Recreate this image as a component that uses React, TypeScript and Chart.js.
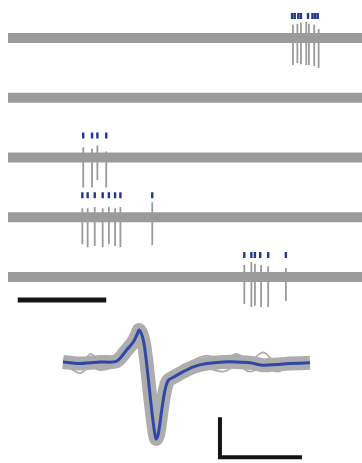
import React, { useEffect, useRef } from "react";
import { Chart, registerables } from "chart.js";
Chart.register(...registerables);

// ---------- Top panel: 5 extracellular traces (time in s, trace offset units) ----------
const traceOffsets = [0, -1, -2, -3, -4];
const traceStart = 0;
const traceEnd = 4;

const spikeTimes1 = [3.22, 3.27, 3.31, 3.37, 3.40, 3.46, 3.51];
const spikeDown1 = [0.45, 0.42, 0.44, 0.45, 0.45, 0.47, 0.5];
const spikeUp1 = [0.22, 0.24, 0.26, 0.27, 0.24, 0.22, 0.15];
const rasterTimes1 = [3.21, 3.24, 3.28, 3.31, 3.39, 3.44, 3.47, 3.5];

const spikeTimes2: number[] = [];
const spikeDown2: number[] = [];
const spikeUp2: number[] = [];
const rasterTimes2: number[] = [];

const spikeTimes3 = [0.85, 0.95, 1.01, 1.11];
const spikeDown3 = [0.5, 0.5, 0.38, 0.5];
const spikeUp3 = [0.17, 0.15, 0.2, 0.1];
const rasterTimes3 = [0.85, 0.95, 1.01, 1.11];

const spikeTimes4 = [0.84, 0.9, 0.98, 1.07, 1.14, 1.21, 1.27, 1.63];
const spikeDown4 = [0.45, 0.5, 0.48, 0.5, 0.45, 0.48, 0.5, 0.47];
const spikeUp4 = [0.15, 0.15, 0.17, 0.15, 0.17, 0.15, 0.17, 0.25];
const rasterTimes4 = [0.84, 0.9, 0.98, 1.07, 1.14, 1.21, 1.27, 1.63];

const spikeTimes5 = [2.67, 2.75, 2.79, 2.86, 2.94, 3.14];
const spikeDown5 = [0.45, 0.5, 0.48, 0.5, 0.5, 0.4];
const spikeUp5 = [0.2, 0.25, 0.22, 0.2, 0.18, 0.15];
const rasterTimes5 = [2.67, 2.75, 2.79, 2.85, 2.94, 3.14];

const rasterLow = 0.32;
const rasterHigh = 0.42;

const timeBarStart = 0.11; // 1 s scale bar
const timeBarLength = 1.0;
const timeBarLevel = -4.385;

// ---------- Bottom panel: spike waveform (time in ms, amplitude in µV) ----------
const waveTime = [0, 0.043, 0.104, 0.165, 0.226, 0.327, 0.388, 0.429, 0.453, 0.465, 0.49, 0.51, 0.53, 0.551, 0.567, 0.581, 0.602, 0.622, 0.642, 0.673, 0.734, 0.795, 0.876, 0.978, 1.059, 1.14, 1.222, 1.303, 1.384, 1.506];
const waveMean = [0, -1, -2, -1, 0, 1, 15, 25, 35, 40, 27, -2, -40, -77, -96, -90, -60, -35, -23, -19, -12, -6, -2, 0, 0, -1, -4, -3, -2, -1];
const waveA = [3, 6, -6, 10, 2, 4, 18, 28, 38, 44, 30, 2, -36, -74, -98, -94, -64, -36, -18, -12, -8, 2, 8, 4, 10, 2, 12, -2, 4, 2];
const waveB = [-4, -8, -14, -6, -10, -4, 10, 22, 32, 37, 22, -6, -44, -80, -100, -92, -56, -30, -28, -22, -16, -12, -8, -12, -4, -12, -6, -12, -6, -4];

const ampBarTime = 0.957; // L scale bar: 50 µV x 0.5 ms
const ampBarTop = -69;
const ampBarLength = 50;
const msBarLength = 0.5;

const GRAY = "#9b9b9b";
const LIGHT_GRAY = "#adadad";
const BLUE = "#233892";
const WAVE_BLUE = "#2f47a6";
const BLACK = "#141414";

function segs(times: number[], lo: (j: number) => number, hi: (j: number) => number) {
  const out: any[] = [];
  times.forEach((t, j) => {
    out.push({ x: t, y: hi(j) }, { x: t, y: lo(j) }, { x: t, y: null });
  });
  return out;
}

export default function App() {
  const topRef = useRef<HTMLCanvasElement>(null);
  const botRef = useRef<HTMLCanvasElement>(null);

  useEffect(() => {
    const spikeSets = [
      [spikeTimes1, spikeDown1, spikeUp1, rasterTimes1],
      [spikeTimes2, spikeDown2, spikeUp2, rasterTimes2],
      [spikeTimes3, spikeDown3, spikeUp3, rasterTimes3],
      [spikeTimes4, spikeDown4, spikeUp4, rasterTimes4],
      [spikeTimes5, spikeDown5, spikeUp5, rasterTimes5],
    ];
    const topDatasets: any[] = [];
    traceOffsets.forEach((off) => {
      topDatasets.push({
        data: [{ x: traceStart, y: off }, { x: traceEnd, y: off }],
        borderColor: GRAY,
        borderWidth: 10,
        borderCapStyle: "butt",
        pointRadius: 0,
        clip: false,
        order: 3,
      });
    });
    spikeSets.forEach(([st, sd, su, rt], i) => {
      const off = traceOffsets[i];
      topDatasets.push({
        data: segs(st as number[], (j) => off - (sd as number[])[j], (j) => off + (su as number[])[j]),
        borderColor: GRAY,
        borderWidth: 1.8,
        borderCapStyle: "butt",
        pointRadius: 0,
        spanGaps: false,
        clip: false,
        order: 2,
      });
      topDatasets.push({
        data: segs(rt as number[], () => off + rasterLow, () => off + rasterHigh),
        borderColor: BLUE,
        borderWidth: 2.4,
        borderCapStyle: "butt",
        pointRadius: 0,
        spanGaps: false,
        clip: false,
        order: 1,
      });
    });
    topDatasets.push({
      data: [
        { x: timeBarStart, y: timeBarLevel },
        { x: timeBarStart + timeBarLength, y: timeBarLevel },
      ],
      borderColor: BLACK,
      borderWidth: 5,
      borderCapStyle: "butt",
      pointRadius: 0,
      clip: false,
      order: 0,
    });

    const top = new Chart(topRef.current!, {
      type: "line",
      data: { datasets: topDatasets },
      options: {
        responsive: false,
        animation: false,
        layout: { padding: { left: 8, right: 0, top: 0, bottom: 0 } },
        plugins: { legend: { display: false }, tooltip: { enabled: false } },
        scales: {
          x: { type: "linear", min: 0, max: 4, display: false },
          y: { type: "linear", min: -4.552, max: 0.636, display: false },
        },
      },
    });

    const pts = (vals: number[]) => waveTime.map((t, k) => ({ x: t, y: vals[k] }));
    const bot = new Chart(botRef.current!, {
      type: "line",
      data: {
        datasets: [
          {
            data: pts(waveMean),
            borderColor: LIGHT_GRAY,
            borderWidth: 14,
            pointRadius: 0,
            tension: 0.3,
            clip: false,
            order: 5,
          },
          {
            data: pts(waveA),
            borderColor: LIGHT_GRAY,
            borderWidth: 1.8,
            pointRadius: 0,
            tension: 0.3,
            clip: false,
            order: 4,
          },
          {
            data: pts(waveB),
            borderColor: LIGHT_GRAY,
            borderWidth: 1.8,
            pointRadius: 0,
            tension: 0.3,
            clip: false,
            order: 4,
          },
          {
            data: pts(waveMean),
            borderColor: WAVE_BLUE,
            borderWidth: 3,
            pointRadius: 0,
            tension: 0.3,
            clip: false,
            order: 1,
          },
          {
            data: [
              { x: ampBarTime, y: ampBarTop },
              { x: ampBarTime, y: ampBarTop - ampBarLength },
              { x: ampBarTime + msBarLength, y: ampBarTop - ampBarLength },
            ],
            borderColor: BLACK,
            borderWidth: 4,
            borderJoinStyle: "miter",
            borderCapStyle: "butt",
            pointRadius: 0,
            tension: 0,
            clip: false,
            order: 0,
          },
        ] as any,
      },
      options: {
        responsive: false,
        animation: false,
        layout: { padding: 0 },
        plugins: { legend: { display: false }, tooltip: { enabled: false } },
        scales: {
          x: { type: "linear", min: -0.384, max: 1.823, display: false },
          y: { type: "linear", min: -126.25, max: 65, display: false },
        },
      },
    });

    return () => {
      top.destroy();
      bot.destroy();
    };
  }, []);

  return (
    <div style={{ position: "fixed", left: 0, top: 0, width: 362, height: 463, background: "#fff", overflow: "hidden" }}>
      <canvas ref={topRef} width={362} height={310} style={{ display: "block", width: 362, height: 310 }} />
      <canvas ref={botRef} width={362} height={153} style={{ display: "block", width: 362, height: 153 }} />
    </div>
  );
}
